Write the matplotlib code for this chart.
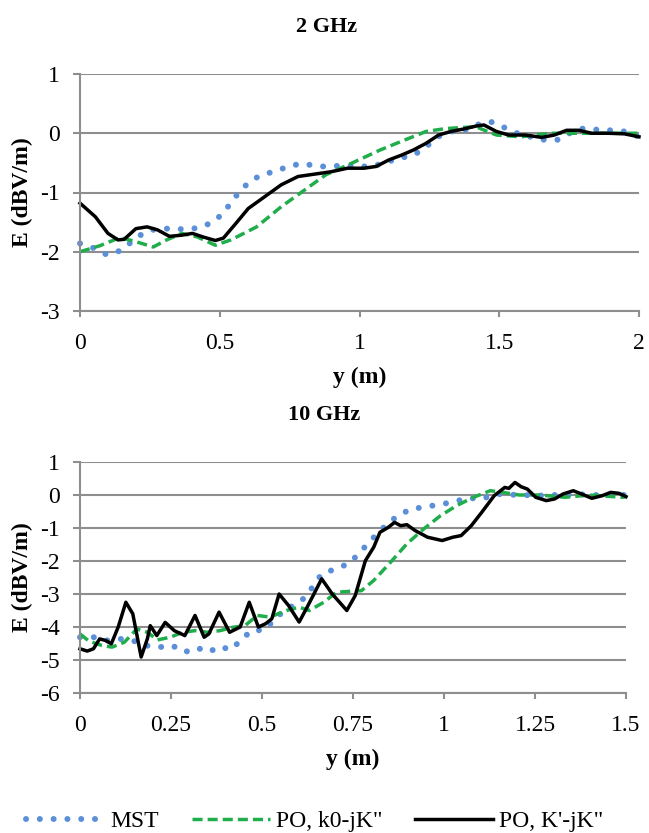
import numpy as np
import matplotlib
matplotlib.use("Agg")
import matplotlib.pyplot as plt

plt.rcParams['font.family'] = ['Liberation Serif', 'DejaVu Serif']
plt.rcParams['axes.unicode_minus'] = False

#%% data - 2 GHz
mst2_x = [0.0, 0.05, 0.096, 0.146, 0.185, 0.225, 0.274, 0.321, 0.373, 0.422, 0.472, 0.513, 0.54, 0.572,
          0.608, 0.651, 0.701, 0.75, 0.799, 0.848, 0.898, 0.947, 0.996, 1.046, 1.095, 1.143, 1.194, 1.238,
          1.28, 1.327, 1.371, 1.419, 1.467, 1.512, 1.564, 1.612, 1.66, 1.711, 1.756, 1.8, 1.852, 1.896,
          1.948, 2.0]
mst2_y = [-1.86, -1.94, -2.05, -1.98, -1.83, -1.69, -1.61, -1.61, -1.62, -1.6, -1.51, -1.35, -1.17, -0.98,
          -0.81, -0.7, -0.64, -0.55, -0.51, -0.56, -0.56, -0.54, -0.56, -0.56, -0.49, -0.42, -0.37, -0.23,
          -0.06, 0.03, 0.04, 0.14, 0.2, 0.11, 0.0, -0.06, -0.11, -0.11, 0.01, 0.08, 0.06, 0.05,
          0.03, -0.06]

pok0_2_x = [0.0, 0.07, 0.143, 0.2, 0.262, 0.31, 0.365, 0.42, 0.484, 0.54, 0.632, 0.72, 0.794, 0.88,
            0.97, 1.075, 1.164, 1.238, 1.31, 1.416, 1.49, 1.578, 1.68, 1.785, 1.9, 2.0]
pok0_2_y = [-2.0, -1.9, -1.76, -1.83, -1.92, -1.8, -1.69, -1.75, -1.89, -1.8, -1.58, -1.24, -0.99, -0.7,
            -0.51, -0.28, -0.11, 0.03, 0.08, 0.11, -0.03, -0.06, 0.0, 0.0, 0.0, 0.0]

pok1_2_x = [0.0, 0.055, 0.1, 0.136, 0.158, 0.2, 0.24, 0.277, 0.32, 0.365, 0.402, 0.44, 0.484, 0.513,
            0.558, 0.602, 0.661, 0.72, 0.78, 0.839, 0.898, 0.957, 1.016, 1.06, 1.105, 1.15, 1.194, 1.238,
            1.283, 1.327, 1.371, 1.416, 1.445, 1.49, 1.534, 1.593, 1.652, 1.697, 1.741, 1.785, 1.83,
            1.889, 1.948, 2.0]
pok1_2_y = [-1.18, -1.41, -1.69, -1.8, -1.79, -1.61, -1.58, -1.63, -1.74, -1.72, -1.69, -1.75, -1.81, -1.77,
            -1.52, -1.27, -1.07, -0.87, -0.73, -0.69, -0.65, -0.59, -0.59, -0.56, -0.45, -0.37, -0.28, -0.17,
            -0.03, 0.03, 0.07, 0.12, 0.14, 0.03, -0.03, -0.03, -0.07, -0.03, 0.05, 0.05, 0.0,
            0.0, -0.01, -0.06]

#%% data - 10 GHz
mst10_x = [0.0, 0.042, 0.076, 0.11, 0.145, 0.18, 0.219, 0.253, 0.288, 0.322, 0.353, 0.385, 0.413, 0.442,
           0.47, 0.505, 0.533, 0.562, 0.592, 0.619, 0.642, 0.664, 0.702, 0.736, 0.764, 0.79, 0.816, 0.844,
           0.873, 0.91, 0.946, 0.984, 1.024, 1.064, 1.104, 1.144, 1.178, 1.218, 1.258, 1.298, 1.338,
           1.378, 1.418, 1.458, 1.5]
mst10_y = [-4.31, -4.31, -4.41, -4.36, -4.41, -4.56, -4.61, -4.56, -4.76, -4.63, -4.76, -4.59, -4.69, -4.41,
           -4.11, -4.09, -3.8, -3.48, -3.32, -3.1, -2.74, -2.39, -2.24, -2.09, -1.81, -1.48, -1.18, -0.88,
           -0.63, -0.42, -0.37, -0.29, -0.22, -0.09, -0.12, 0.03, 0.01, 0.0, -0.02, 0.0, 0.0,
           0.02, 0.0, 0.02, 0.0]

pok0_10_x = [0.0, 0.025, 0.06, 0.088, 0.122, 0.156, 0.185, 0.213, 0.248, 0.282, 0.316, 0.35, 0.385, 0.419,
             0.453, 0.487, 0.522, 0.567, 0.602, 0.63, 0.67, 0.704, 0.739, 0.773, 0.807, 0.853, 0.898, 0.944,
             0.99, 1.035, 1.081, 1.127, 1.161, 1.207, 1.264, 1.332, 1.4, 1.49, 1.5]
pok0_10_y = [-4.21, -4.43, -4.56, -4.61, -4.46, -4.06, -4.16, -4.39, -4.31, -4.16, -4.11, -4.16, -4.11, -4.01,
             -3.96, -3.65, -3.7, -3.5, -3.4, -3.5, -3.25, -2.95, -2.92, -2.9, -2.59, -2.04, -1.48, -1.03,
             -0.63, -0.32, -0.07, 0.13, 0.08, 0.0, 0.0, -0.07, 0.0, -0.07, -0.05]

pok1_10_x = [0.0, 0.02, 0.037, 0.054, 0.071, 0.086, 0.105, 0.126, 0.145, 0.168, 0.185, 0.193, 0.211, 0.234,
             0.259, 0.288, 0.316, 0.341, 0.354, 0.382, 0.411, 0.44, 0.465, 0.49, 0.51, 0.527, 0.547, 0.573,
             0.602, 0.624, 0.664, 0.693, 0.733, 0.756, 0.784, 0.807, 0.824, 0.847, 0.864, 0.881, 0.898,
             0.921, 0.955, 0.995, 1.024, 1.047, 1.075, 1.104, 1.138, 1.167, 1.178, 1.195, 1.212, 1.229,
             1.252, 1.281, 1.304, 1.327, 1.355, 1.378, 1.406, 1.435, 1.458, 1.481, 1.5]
pok1_10_y = [-4.66, -4.73, -4.66, -4.36, -4.41, -4.51, -4.0, -3.25, -3.6, -4.91, -4.36, -3.96, -4.26, -3.86,
             -4.11, -4.26, -3.65, -4.31, -4.21, -3.55, -4.16, -4.0, -3.25, -4.0, -3.9, -3.75, -3.0, -3.35,
             -3.85, -3.4, -2.54, -3.0, -3.5, -3.05, -1.99, -1.58, -1.13, -0.98, -0.83, -0.93, -0.9,
             -1.08, -1.28, -1.38, -1.28, -1.23, -0.93, -0.52, -0.02, 0.23, 0.2, 0.38, 0.25, 0.18,
             -0.07, -0.17, -0.12, 0.03, 0.13, 0.03, -0.1, -0.02, 0.08, 0.05, -0.05]

labels = ['MST', 'PO, k0-jK"', "PO, K'-jK\""]
xticks_2 = [0, 0.5, 1, 1.5, 2]
xticklabels_2 = ['0', '0.5', '1', '1.5', '2']
yticks_2 = [-3, -2, -1, 0, 1]
xticks_10 = [0, 0.25, 0.5, 0.75, 1, 1.25, 1.5]
xticklabels_10 = ['0', '0.25', '0.5', '0.75', '1', '1.25', '1.5']
yticks_10 = [-6, -5, -4, -3, -2, -1, 0, 1]

#%% plot
fig = plt.figure(figsize=(6.49, 8.33), dpi=100)
ax1 = fig.add_axes([80/649, 1-311/833, 559/649, 237/833])
ax2 = fig.add_axes([80/649, 1-693/833, 546/649, 231/833])

grey = '#8e8e8e'
blue = '#5b8fd8'
green = '#1fae4b'


def style_axes(ax, xticks, xticklabels, yticks):
    ax.set_xlim(xticks[0], xticks[-1])
    ax.set_ylim(yticks[0], yticks[-1])
    ax.set_xticks(xticks)
    ax.set_xticklabels(xticklabels)
    ax.set_yticks(yticks)
    ax.set_yticklabels([str(t) for t in yticks])
    for s in ['top', 'right']:
        ax.spines[s].set_visible(False)
    for s in ['left', 'bottom']:
        ax.spines[s].set_color(grey)
        ax.spines[s].set_linewidth(1.5)
    ax.grid(axis='y', color=grey, linewidth=1.5)
    ax.set_axisbelow(True)
    ax.tick_params(axis='y', length=5, width=1.5, color=grey, pad=9.5, labelsize=17)
    ax.tick_params(axis='x', length=4, width=1.5, color=grey, pad=12, labelsize=17)
    ax.set_xlabel('y (m)', fontsize=17, fontweight='bold', labelpad=9)
    ax.set_ylabel('E (dBV/m)', fontsize=17, fontweight='bold')


def draw(ax, mx, my, gx, gy, bx, by):
    l1, = ax.plot(mx, my, color=blue, linewidth=4.3, linestyle=(0, (0.01, 2.3)),
                  dash_capstyle='round', label=labels[0], clip_on=False)
    l2, = ax.plot(gx, gy, color=green, linewidth=2.5, linestyle=(0, (2.9, 1.45)),
                  label=labels[1], clip_on=False)
    l3, = ax.plot(bx, by, color='black', linewidth=2.5, solid_joinstyle='round',
                  label=labels[2], clip_on=False)
    return [l1, l2, l3]


handles = draw(ax1, mst2_x, mst2_y, pok0_2_x, pok0_2_y, pok1_2_x, pok1_2_y)
draw(ax2, mst10_x, mst10_y, pok0_10_x, pok0_10_y, pok1_10_x, pok1_10_y)
style_axes(ax1, xticks_2, xticklabels_2, yticks_2)
style_axes(ax2, xticks_10, xticklabels_10, yticks_10)
ax1.yaxis.set_label_coords(-0.084, 0.5)
ax2.yaxis.set_label_coords(-0.086, 0.5)

fig.text(0.503, 1-27/833, '2 GHz', ha='center', va='center', fontsize=16, fontweight='bold')
fig.text(0.50, 1-415/833, '10 GHz', ha='center', va='center', fontsize=16, fontweight='bold')

fig.legend(handles=handles, labels=labels, loc='center', bbox_to_anchor=(0.485, 1-821/833),
           ncol=3, frameon=False, fontsize=17, handlelength=3.3, handletextpad=0.25,
           columnspacing=1.4)

fig.savefig('out.png', dpi=100)
